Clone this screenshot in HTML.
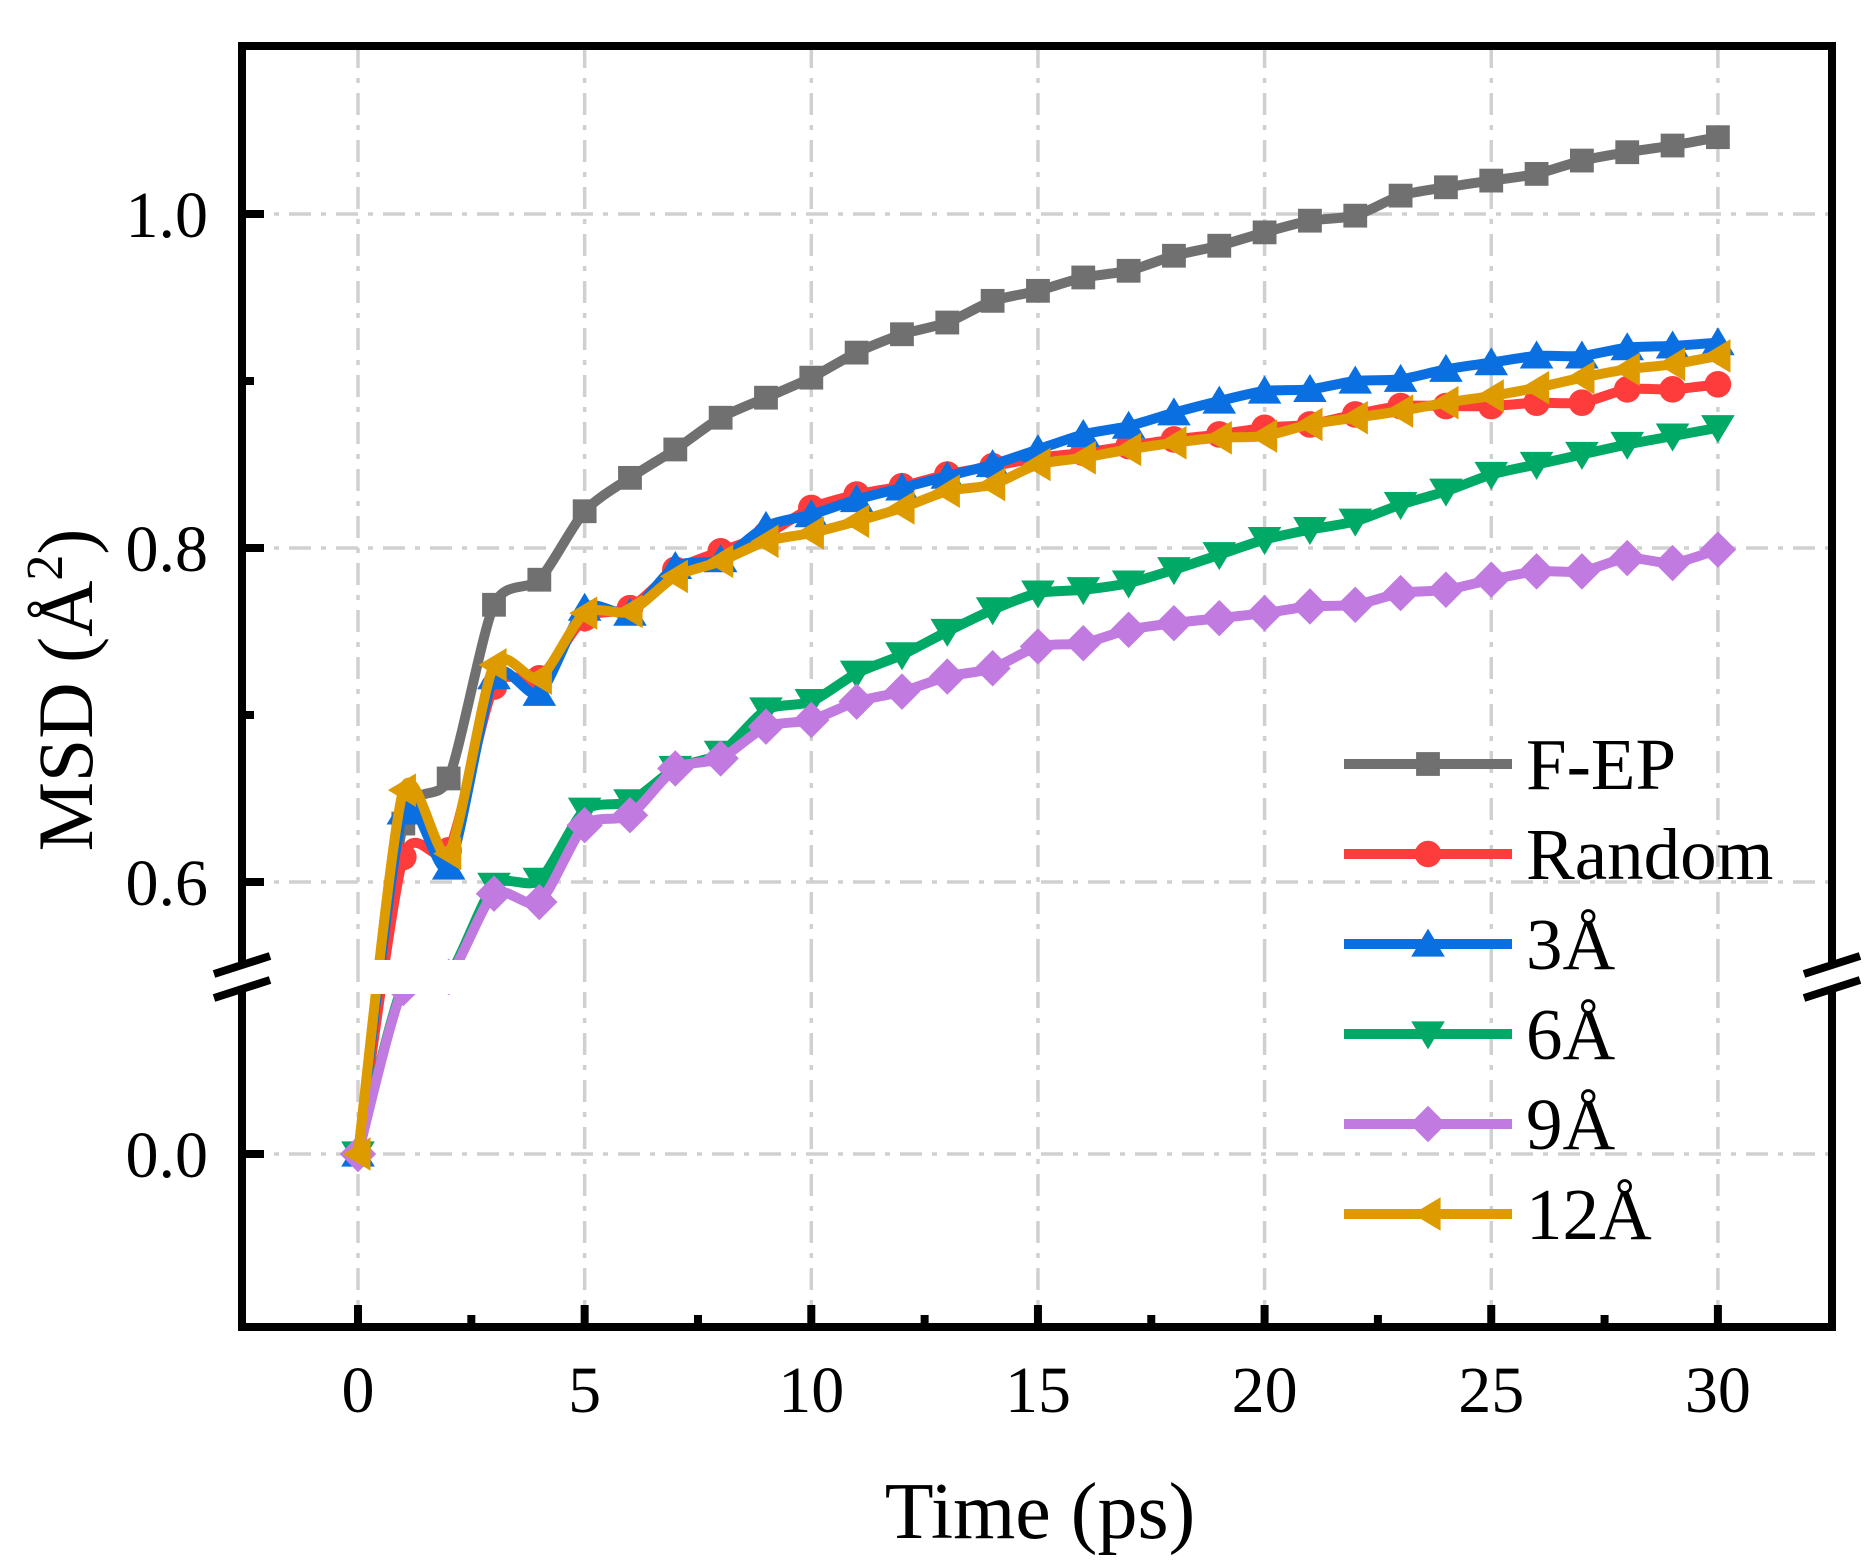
<!DOCTYPE html>
<html><head><meta charset="utf-8"><style>
html,body{margin:0;padding:0;background:#fff;}
svg{display:block;font-family:"Liberation Serif",serif;}
</style></head><body>
<svg id="s" width="1876" height="1568" viewBox="0 0 1876 1568" xmlns="http://www.w3.org/2000/svg"></svg>
<script>
const S=document.getElementById('s');
let h='';
const X0=358,DX=45.33;
const xp=x=>X0+x*DX;
const yp=v=>882-(v-0.6)*1670;
const L=242,R=1832,T=46,B=1327;
const g='stroke="#d0d0d0" stroke-width="3.5" stroke-dasharray="22,10,5,10" fill="none"';
for(let x=0;x<=30;x+=5)h+=`<line x1="${xp(x)}" y1="${T}" x2="${xp(x)}" y2="${B}" ${g}/>`;
[0.6,0.8,1.0].forEach(v=>h+=`<line x1="${L}" y1="${yp(v)}" x2="${R}" y2="${yp(v)}" ${g}/>`);
h+=`<line x1="${L}" y1="1154" x2="${R}" y2="1154" ${g}/>`;
const D={
gray:['#707070','sq',[0,.635,.662,.766,.781,.822,.842,.859,.878,.890,.902,.917,.928,.935,.948,.954,.962,.966,.975,.981,.989,.996,.999,1.011,1.016,1.020,1.024,1.032,1.037,1.041,1.046]],
red:['#ff3c3c','ci',[0,.615,.619,.717,.722,.758,.764,.787,.798,.808,.824,.832,.837,.844,.849,.854,.857,.861,.865,.868,.872,.874,.880,.885,.885,.885,.887,.887,.895,.895,.898]],
blue:['#0a6fe0','tu',[0,.642,.609,.723,.713,.764,.761,.789,.793,.813,.820,.829,.836,.843,.850,.859,.868,.873,.881,.888,.894,.895,.900,.901,.907,.911,.915,.915,.920,.921,.923]],
green:['#00aa66','td',[0,'p985','p975',.598,.601,.643,.648,.668,.677,.703,.708,.725,.736,.750,.763,.773,.775,.779,.787,.796,.805,.811,.816,.826,.834,.844,.850,.856,.862,.867,.872]],
purple:['#c07ae0','di',[0,'p988','p977',.593,.588,.634,.640,.668,.674,.693,.697,.708,.714,.723,.728,.741,.743,.751,.755,.758,.761,.765,.766,.773,.775,.781,.786,.786,.794,.791,.799]],
gold:['#de9b00','tl',[0,.655,.617,.730,.722,.761,.762,.783,.792,.804,.809,.816,.824,.834,.838,.850,.854,.859,.863,.866,.867,.874,.878,.882,.887,.891,.896,.902,.907,.910,.915]]};
function pts(a){return a.map((v,i)=>[xp(i),i===0?1154:(typeof v==='string'?+v.slice(1):yp(v))]);}
function path(p){let d=`M${p[0][0]},${p[0][1]}`;const k=8;for(let i=0;i<p.length-1;i++){const p0=p[i-1]||p[i],p1=p[i],p2=p[i+1],p3=p[i+2]||p2;const c1=[p1[0]+(p2[0]-p0[0])/k,p1[1]+(p2[1]-p0[1])/k],c2=[p2[0]-(p3[0]-p1[0])/k,p2[1]-(p3[1]-p1[1])/k];d+=`C${c1[0].toFixed(1)},${c1[1].toFixed(1)} ${c2[0].toFixed(1)},${c2[1].toFixed(1)} ${p2[0].toFixed(1)},${p2[1].toFixed(1)}`;}return d;}
function mk(t,x,y,c,s){s=s||14;
 if(t=='sq')return `<rect x="${x-s*.85}" y="${y-s*.85}" width="${s*1.7}" height="${s*1.7}" fill="${c}"/>`;
 if(t=='ci')return `<circle cx="${x}" cy="${y}" r="${s*.95}" fill="${c}"/>`;
 if(t=='tu')return `<polygon points="${x},${y-s*1.1} ${x+s*1.2},${y+s*.9} ${x-s*1.2},${y+s*.9}" fill="${c}"/>`;
 if(t=='td')return `<polygon points="${x},${y+s*1.1} ${x+s*1.2},${y-s*.9} ${x-s*1.2},${y-s*.9}" fill="${c}"/>`;
 if(t=='di')return `<polygon points="${x},${y-s*1.3} ${x+s*1.3},${y} ${x},${y+s*1.3} ${x-s*1.3},${y}" fill="${c}"/>`;
 if(t=='tl')return `<polygon points="${x-s*1.1},${y} ${x+s*.9},${y-s*1.2} ${x+s*.9},${y+s*1.2}" fill="${c}"/>`;}
['gray','red','blue','green','purple','gold'].forEach(k=>{const [c,t,a]=D[k];const p=pts(a);
 h+=`<path d="${path(p)}" stroke="${c}" stroke-width="10" fill="none"/>`;
 p.forEach(q=>h+=mk(t,q[0],q[1],c));});
h+=`<rect x="${L+4}" y="960" width="${R-L-8}" height="34" fill="#fff"/>`;
for(let x=0;x<=30;x+=5)h+=`<line x1="${xp(x)}" y1="960" x2="${xp(x)}" y2="994" ${g}/>`;
h+=`<path d="M${L},962 V${T} H${R} V962 M${L},992 V${B} H${R} V992" stroke="#000" stroke-width="8" fill="none"/>`;
[L,R].forEach(x=>{h+=`<line x1="${x-28}" y1="974" x2="${x+28}" y2="956" stroke="#000" stroke-width="8"/><line x1="${x-28}" y1="998" x2="${x+28}" y2="980" stroke="#000" stroke-width="8"/>`;});
[0.6,0.8,1.0].forEach(v=>h+=`<line x1="${L}" y1="${yp(v)}" x2="${L+22}" y2="${yp(v)}" stroke="#000" stroke-width="8"/>`);
h+=`<line x1="${L}" y1="1154" x2="${L+22}" y2="1154" stroke="#000" stroke-width="8"/>`;
[0.7,0.9].forEach(v=>h+=`<line x1="${L}" y1="${yp(v)}" x2="${L+12}" y2="${yp(v)}" stroke="#000" stroke-width="8"/>`);
for(let x=0;x<=30;x+=2.5){const len=x%5==0?22:12;h+=`<line x1="${xp(x)}" y1="${B}" x2="${xp(x)}" y2="${B-len}" stroke="#000" stroke-width="8"/>`;}
const ty=[[1.0,yp(1.0)],[0.8,yp(0.8)],[0.6,yp(0.6)],[0,1154]];
ty.forEach(([v,y])=>h+=`<text x="208" y="${y+23}" font-size="66" text-anchor="end">${v.toFixed(1)}</text>`);
for(let x=0;x<=30;x+=5)h+=`<text x="${xp(x)}" y="1412" font-size="66" text-anchor="middle">${x}</text>`;
h+=`<text x="1040" y="1538" font-size="80" text-anchor="middle">Time (ps)</text>`;
h+=`<text transform="translate(92,690) rotate(-90)" font-size="78" text-anchor="middle">MSD (Å<tspan font-size="52" dy="-30">2</tspan><tspan dy="30">)</tspan></text>`;
const lg=[['gray','F-EP'],['red','Random'],['blue','3Å'],['green','6Å'],['purple','9Å'],['gold','12Å']];
lg.forEach(([k,t],i)=>{const y=764+i*90;const [c,m]=D[k];
 h+=`<line x1="1344" y1="${y}" x2="1512" y2="${y}" stroke="${c}" stroke-width="10"/>`+mk(m,1428,y,c);
 h+=`<text x="1526" y="${y+25}" font-size="73">${t}</text>`;});
S.innerHTML=h;
</script>
</body></html>
